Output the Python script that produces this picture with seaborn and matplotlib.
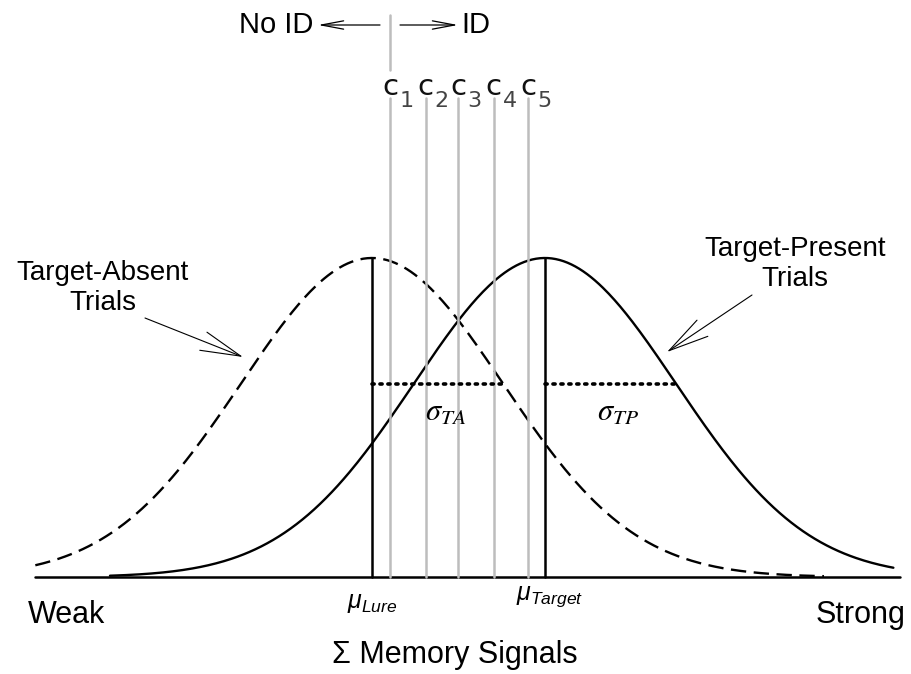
import numpy as np
import matplotlib
matplotlib.use("Agg")
import matplotlib.pyplot as plt
import seaborn as sns

# distributions, in units of the lure SD (lure mean = 0)
dist_names = ["Target-Absent", "Target-Present"]
dist_means = [0.0, 1.32]
dist_sds = [1.0, 1.0]
dist_ranges = [(-2.57, 3.45), (-2.0, 3.98)]
dist_styles = ["dashed", "solid"]

# decision criteria c1..c5
criteria = [0.14, 0.41, 0.66, 0.93, 1.19]
criteria_labels = ["1", "2", "3", "4", "5"]

mean_labels = [r"$\mu_{Lure}$", r"$\mu_{Target}$"]
sd_labels = [r"$\sigma_{TA}$", r"$\sigma_{TP}$"]

# pixel -> data helpers (only for placing text / arrows)
def px(x):
    return (x - 372) / 131

def py(y):
    return (577 - y) / 319

sns.set_style("white")
plt.rcParams["font.family"] = ["Liberation Sans", "DejaVu Sans"]
plt.rcParams["text.color"] = "black"
plt.rcParams["mathtext.fontset"] = "custom"
plt.rcParams["mathtext.rm"] = "Liberation Sans"
plt.rcParams["mathtext.it"] = "Liberation Sans:italic"

fig = plt.figure(figsize=(9.11, 6.74), dpi=100)
ax = fig.add_axes([0, 0, 1, 1])
ax.set_xlim(px(0), px(911))
ax.set_ylim(py(674), py(0))
ax.axis("off")

# the two bell curves
for mu, sd, (lo, hi), style in zip(dist_means, dist_sds, dist_ranges, dist_styles):
    xs = np.linspace(lo, hi, 400)
    ys = np.exp(-0.5 * ((xs - mu) / sd) ** 2)
    sns.lineplot(x=xs, y=ys, color="black", lw=1.7, ax=ax)
    if style == "dashed":
        ax.lines[-1].set_linestyle((0, (6.5, 3.2)))

# baseline
ax.plot([px(35), px(900)], [0, 0], color="black", lw=1.8)

# criterion lines
crit_top = py(98)
for c, lab in zip(criteria, criteria_labels):
    ax.plot([c, c], [0, crit_top], color="#bdbdbd", lw=1.8)
    ax.text(c - 8 / 131, py(95), "c", fontsize=21, ha="left", va="baseline",
            family="DejaVu Sans", color="#111111")
    ax.text(c + 9 / 131, py(107), lab, fontsize=16, ha="left", va="baseline",
            color="#444444", family="DejaVu Sans")

# c1 extension up to the No ID / ID divider
ax.plot([criteria[0], criteria[0]], [py(70), py(15)], color="#bdbdbd", lw=1.8)

# mean lines and sd markers
for i, (mu, sd) in enumerate(zip(dist_means, dist_sds)):
    ax.plot([mu, mu], [0, 1], color="black", lw=1.8)
    h = np.exp(-0.5)
    ax.plot([mu, mu + sd], [h, h], color="black", lw=2.6, linestyle=(0, (0.6, 1.6)),
            dash_capstyle="round")
    ax.text(mu + 0.56 * sd, py(412), sd_labels[i], fontsize=22, ha="center", va="center",
            family="DejaVu Serif", math_fontfamily="stix")

ax.text(dist_means[0], py(603), mean_labels[0], fontsize=18, ha="center", va="center")
ax.text(dist_means[1] + 0.04, py(597), mean_labels[1], fontsize=18, ha="center", va="center")

# No ID / ID
arrow = dict(arrowstyle="->,head_length=0.8,head_width=0.15", color="black", lw=0.9,
             shrinkA=0, shrinkB=0, mutation_scale=20)
ax.annotate("", xy=(px(318), py(25)), xytext=(px(380), py(25)), arrowprops=arrow)
ax.annotate("", xy=(px(458), py(25)), xytext=(px(400), py(25)), arrowprops=arrow)
ax.text(px(313), py(25), "No ID", fontsize=21, ha="right", va="center")
ax.text(px(461), py(25), "ID", fontsize=21, ha="left", va="center")

# distribution labels with pointers
ptr = dict(arrowstyle="->,head_length=1.45,head_width=0.35", color="black", lw=0.8,
           shrinkA=0, shrinkB=0, mutation_scale=20)
ax.text(px(103), py(288), "Target-Absent\nTrials", fontsize=20, ha="center", va="center",
        linespacing=1.15)
ax.annotate("", xy=(px(243), py(357)), xytext=(px(145), py(318)), arrowprops=ptr)
ax.text(px(795), py(264), "Target-Present\nTrials", fontsize=20, ha="center", va="center",
        linespacing=1.15)
ax.annotate("", xy=(px(667), py(352)), xytext=(px(752), py(295)), arrowprops=ptr)

# axis words
ax.text(px(28), py(615), "Weak", fontsize=22, ha="left", va="center")
ax.text(px(905), py(615), "Strong", fontsize=22, ha="right", va="center")
ax.text(px(455), py(655), "\u03a3 Memory Signals", fontsize=22, ha="center", va="center")

fig.savefig("out.png", dpi=100)
